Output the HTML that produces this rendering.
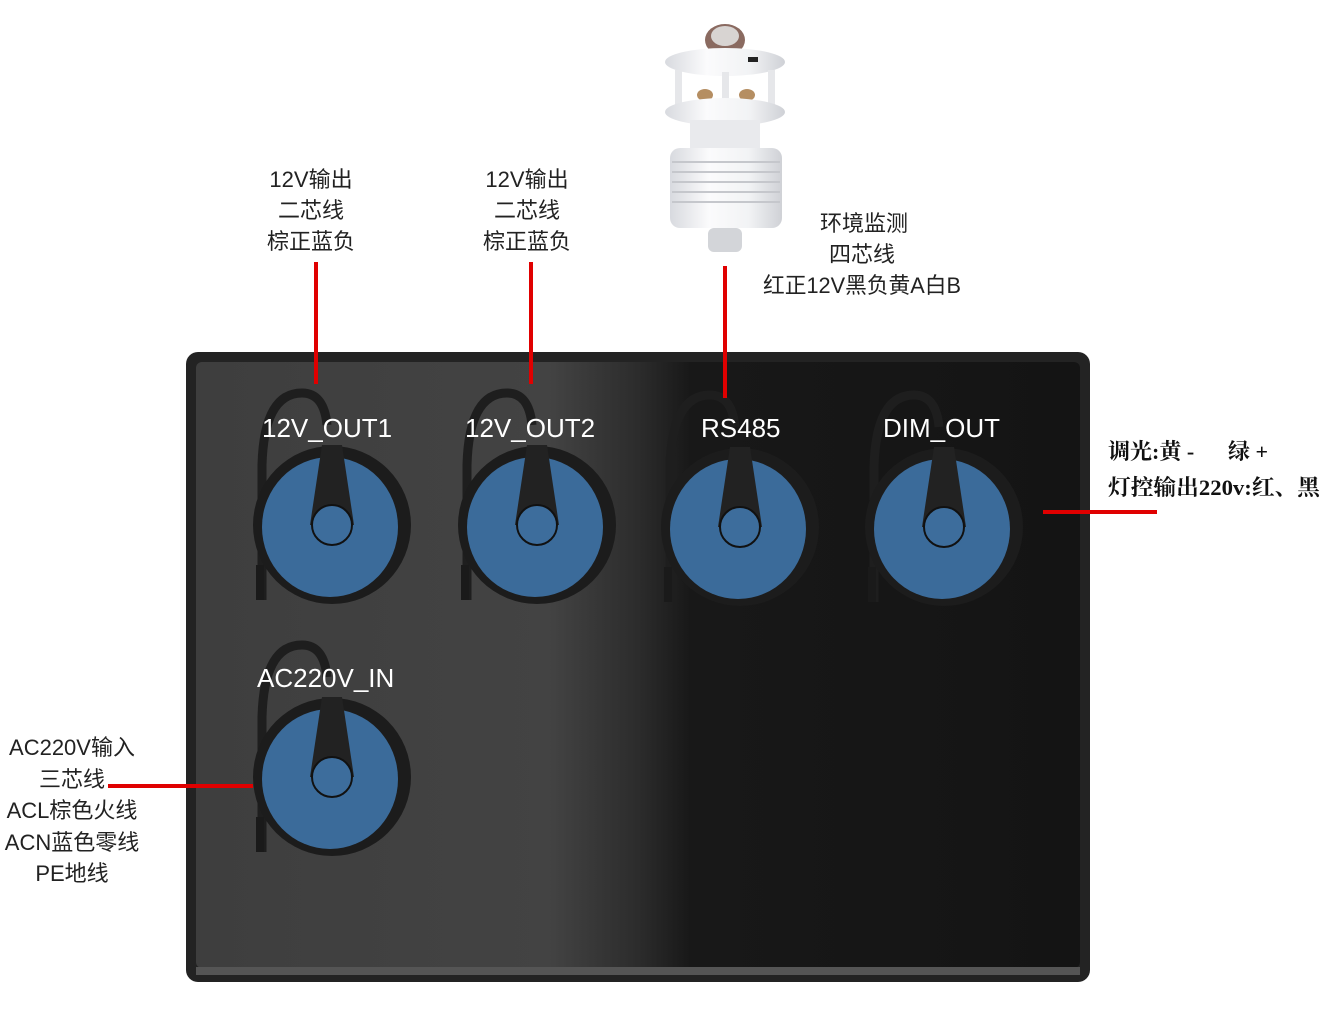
<!DOCTYPE html>
<html><head><meta charset="utf-8"><style>
html,body{margin:0;padding:0;background:#fff;}
body{width:1340px;height:1027px;overflow:hidden;}
svg{display:block}
.cj{font-family:"Liberation Sans","Noto Sans CJK SC",sans-serif;font-size:22px;fill:#222;}
.sf{font-family:"Liberation Serif","Noto Serif CJK SC",serif;font-size:22px;fill:#111;font-weight:bold;}
.lb{font-family:"Liberation Sans","Noto Sans CJK SC",sans-serif;font-size:26px;fill:#fff;}
</style></head><body>
<svg width="1340" height="1027" viewBox="0 0 1340 1027" xmlns="http://www.w3.org/2000/svg">
<defs>
<linearGradient id="bg" x1="0" y1="0" x2="1" y2="0">
<stop offset="0" stop-color="#3e3e3e"/>
<stop offset="0.40" stop-color="#434343"/>
<stop offset="0.50" stop-color="#2c2c2c"/>
<stop offset="0.56" stop-color="#181818"/>
<stop offset="1" stop-color="#141414"/>
</linearGradient>
<linearGradient id="sens" x1="0" y1="0" x2="1" y2="0">
<stop offset="0" stop-color="#d8dadf"/>
<stop offset="0.35" stop-color="#fbfbfc"/>
<stop offset="0.7" stop-color="#f2f3f5"/>
<stop offset="1" stop-color="#cfd1d6"/>
</linearGradient>
<g id="conn">
<path d="M-70,75 L-70,-60 Q-68,-132 -30,-132 Q-8,-132 -5,-100" fill="none" stroke="#1e1e1e" stroke-width="9"/>
<circle cx="0" cy="0" r="79" fill="#1c1c1c"/>
<ellipse cx="-2" cy="2" rx="68" ry="70" fill="#3b6b9a"/>
<polygon points="-10,-80 10,-80 22,0 -22,0" fill="#222"/>
<circle cx="0" cy="0" r="20" fill="#3d6d9c" stroke="#111" stroke-width="2"/>
<rect x="-76" y="40" width="8" height="35" fill="#1a1a1a"/>
</g>
</defs>

<rect x="186" y="352" width="904" height="630" rx="12" fill="#232323"/>
<rect x="196" y="362" width="884" height="606" rx="6" fill="url(#bg)"/>
<rect x="196" y="967" width="884" height="8" fill="#555"/>

<use href="#conn" x="332" y="525"/>
<use href="#conn" x="537" y="525"/>
<use href="#conn" x="740" y="527"/>
<use href="#conn" x="944" y="527"/>
<use href="#conn" x="332" y="777"/>

<text class="lb" x="262" y="437">12V_OUT1</text>
<text class="lb" x="465" y="437">12V_OUT2</text>
<text class="lb" x="701" y="437">RS485</text>
<text class="lb" x="883" y="437">DIM_OUT</text>
<text class="lb" x="257" y="687">AC220V_IN</text>

<ellipse cx="725" cy="40" rx="20" ry="16" fill="#8a6a60"/>
<ellipse cx="725" cy="36" rx="14" ry="10" fill="#d8d4d2"/>
<ellipse cx="725" cy="62" rx="60" ry="14" fill="url(#sens)"/>
<rect x="748" y="57" width="10" height="5" fill="#222"/>
<rect x="675" y="70" width="7" height="40" fill="#e6e7ea"/>
<rect x="722" y="72" width="7" height="40" fill="#e6e7ea"/>
<rect x="768" y="70" width="7" height="40" fill="#e6e7ea"/>
<ellipse cx="705" cy="95" rx="8" ry="6" fill="#b58e62"/>
<ellipse cx="747" cy="95" rx="8" ry="6" fill="#b58e62"/>
<ellipse cx="725" cy="112" rx="60" ry="14" fill="url(#sens)"/>
<rect x="690" y="120" width="70" height="30" fill="#e9eaed"/>
<rect x="670" y="148" width="112" height="80" rx="10" fill="url(#sens)"/>
<g stroke="#c5c7cc" stroke-width="2">
<line x1="672" y1="162" x2="780" y2="162"/><line x1="672" y1="172" x2="780" y2="172"/>
<line x1="672" y1="182" x2="780" y2="182"/><line x1="672" y1="192" x2="780" y2="192"/>
<line x1="672" y1="202" x2="780" y2="202"/></g>
<rect x="708" y="228" width="34" height="24" rx="6" fill="#d3d5d9"/>

<g fill="#e00000">
<rect x="314" y="262" width="4" height="122"/>
<rect x="529" y="262" width="4" height="122"/>
<rect x="723" y="266" width="4" height="132"/>
<rect x="1043" y="510" width="114" height="4"/>
<rect x="108" y="784" width="145" height="4"/>
</g>

<g class="cj" text-anchor="middle">
<text x="311" y="187">12V输出</text><text x="311" y="218">二芯线</text><text x="311" y="249">棕正蓝负</text>
<text x="527" y="187">12V输出</text><text x="527" y="218">二芯线</text><text x="527" y="249">棕正蓝负</text>
<text x="864" y="231">环境监测</text><text x="862" y="262">四芯线</text>
<text x="862" y="293" textLength="198" lengthAdjust="spacingAndGlyphs">红正12V黑负黄A白B</text>
<text x="72" y="755">AC220V输入</text><text x="72" y="787">三芯线</text>
<text x="72" y="818">ACL棕色火线</text><text x="72" y="850">ACN蓝色零线</text><text x="72" y="881">PE地线</text>
</g>
<text class="sf" x="1108" y="459">调光:黄 -</text>
<text class="sf" x="1228" y="459">绿 +</text>
<text class="sf" x="1108" y="495" textLength="212" lengthAdjust="spacingAndGlyphs">灯控输出220v:红、黑</text>
</svg>
</body></html>
